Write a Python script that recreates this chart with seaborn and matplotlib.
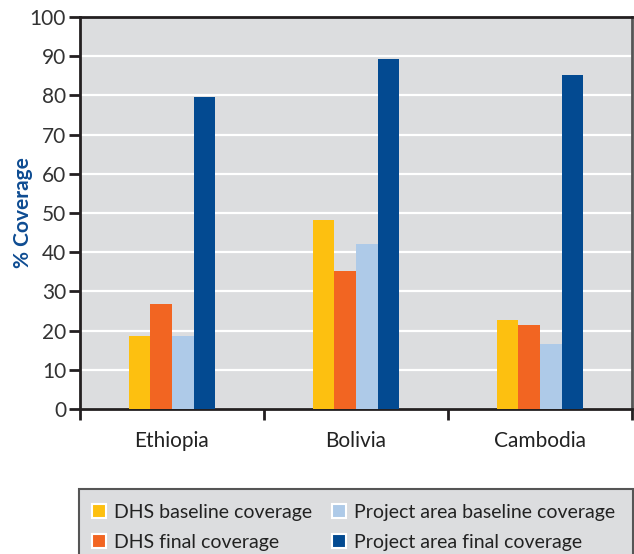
import matplotlib
matplotlib.use("Agg")
import matplotlib.pyplot as plt
import matplotlib.patches as mpatches
from matplotlib.ticker import FixedLocator
import pandas as pd
import seaborn as sns

countries = ["Ethiopia", "Bolivia", "Cambodia"]
series = ["DHS baseline coverage", "DHS final coverage",
          "Project area baseline coverage", "Project area final coverage"]
dhs_baseline = [18.6, 48.2, 22.7]
dhs_final = [26.8, 35.2, 21.4]
project_baseline = [18.6, 42.1, 16.6]
project_final = [79.5, 89.3, 85.2]
colors = ["#FDC010", "#F26522", "#AECAE8", "#034A91"]
y_ticks = list(range(0, 101, 10))

rows = []
for name, vals in zip(series, [dhs_baseline, dhs_final, project_baseline, project_final]):
    for c, v in zip(countries, vals):
        rows.append({"Country": c, "Series": name, "Coverage": v})
df = pd.DataFrame(rows)

sns.set_theme(style="white")
plt.rcParams["font.family"] = ["Lato", "DejaVu Sans"]

W, H = 634, 554
fig = plt.figure(figsize=(W / 100, H / 100), dpi=100)
ax = fig.add_axes([80 / W, 1 - 409 / H, 552 / W, 392 / H])
ax.set_facecolor("#DCDDDF")

sns.barplot(data=df, x="Country", y="Coverage", hue="Series", order=countries,
            hue_order=series, palette=colors, width=0.47, gap=0,
            saturation=1, linewidth=0, legend=False, ax=ax, zorder=3)

ax.set_ylim(0, 100)
ax.set_xlim(-0.5, 2.5)
ax.set_yticks(y_ticks)
ax.set_yticklabels([str(t) for t in y_ticks], fontsize=15, color="#333333")
ax.grid(axis="y", color="white", linewidth=1.6, zorder=0)
ax.set_axisbelow(True)

ax.set_xticks(range(len(countries)))
ax.set_xticklabels(countries, fontsize=15, color="#222222")
ax.xaxis.set_minor_locator(FixedLocator([-0.5, 0.5, 1.5, 2.5]))
ax.tick_params(axis="x", which="major", length=0, pad=16)
ax.tick_params(axis="x", which="minor", length=8, width=2, color="#231F20",
               direction="out", bottom=True)
ax.tick_params(axis="y", length=8, width=2, color="#231F20", direction="out",
               left=True, pad=2)

for s in ax.spines.values():
    s.set_visible(True)
    s.set_color("#231F20")
    s.set_linewidth(2)
ax.spines["right"].set_color("#555555")

ax.set_xlabel("")
ax.set_ylabel("% Coverage", fontsize=15, color="#0E4C92", fontweight="bold")
ax.yaxis.set_label_coords(-47 / 552, 0.5)

# Legend panel: grey box running off the bottom edge of the figure
panel = mpatches.Rectangle((79 / W, -0.05), 554 / W, (H - 489) / H + 0.05,
                           transform=fig.transFigure, facecolor="#DCDDDF",
                           edgecolor="#555555", linewidth=1.5, zorder=1)
fig.add_artist(panel)

handles = [mpatches.Patch(facecolor=c, edgecolor="white", linewidth=1.5, label=s)
           for c, s in zip(colors, series)]
leg = fig.legend(handles=handles, loc="upper left", ncol=2,
                 bbox_to_anchor=(92 / W, 1 - 504 / H),
                 fontsize=14, frameon=False, borderaxespad=0, borderpad=0,
                 handlelength=0.7, handleheight=0.7, handletextpad=0.45,
                 columnspacing=1.0, labelspacing=0.65)
leg.set_zorder(2)
for t in leg.get_texts():
    t.set_color("#222222")

fig.savefig("out.png", dpi=100, facecolor="white")
